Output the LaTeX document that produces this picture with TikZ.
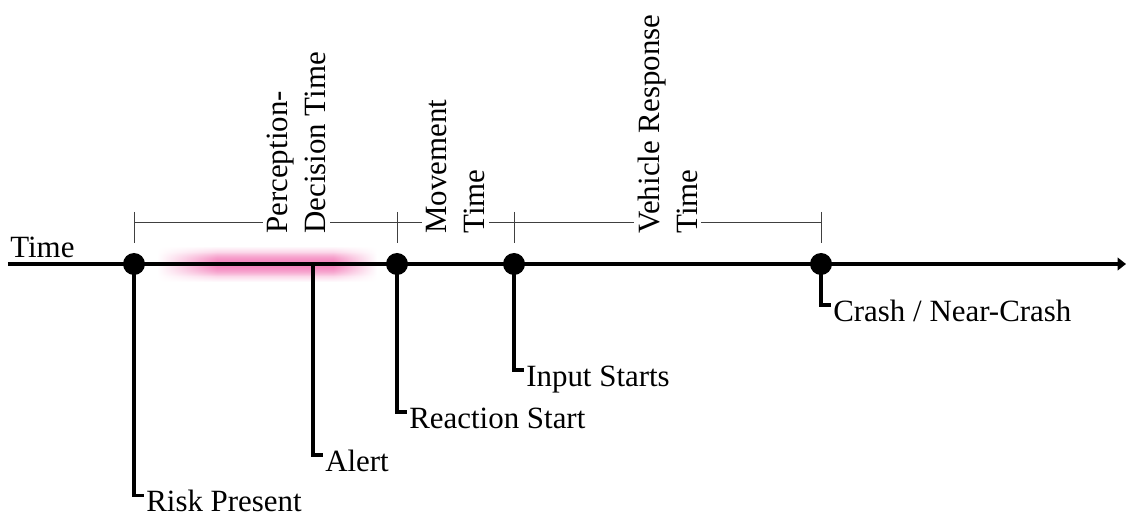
\documentclass[tikz,border=0pt]{standalone}
\usepackage{fontspec}
\setmainfont{Liberation Serif}
\usetikzlibrary{arrows.meta, positioning, calc, fadings}

\definecolor{glowpink}{RGB}{244,135,190}
% soft top and bottom edges for the highlight band
\tikzfading[name=bandfade, top color=transparent!100, bottom color=transparent!100, middle color=transparent!0]

\begin{document}
\begin{tikzpicture}[
  timeline/.style={line width=3.2pt, -{Triangle[length=6pt,width=9pt]}},
  event/.style={circle, fill=black, inner sep=0pt, minimum size=0.55cm},
  drop/.style={line width=2.2pt},
  span/.style={line width=0.7pt, black!75},
  evlabel/.style={anchor=north west, inner xsep=0.05cm, inner ysep=0pt, text height=0.4cm, font=\fontsize{22}{27}\selectfont},
  spanlabel/.style={rotate=90, anchor=west, fill=white, inner sep=0.1cm, align=left, font=\fontsize{22}{27}\selectfont}
]
\useasboundingbox (0,0) rectangle (28.15,12.9);

% highlight band behind the perception phase (two layers for a flatter core)
\foreach \lo/\hi in {5.85/6.75, 6.0/6.6}{
  \shade[left color=white, right color=glowpink, path fading=bandfade] (3.925,\lo) rectangle (5.425,\hi);
  \fill[glowpink, path fading=bandfade] (5.425,\lo) rectangle (8.325,\hi);
  \shade[left color=glowpink, right color=white, path fading=bandfade] (8.325,\lo) rectangle (9.425,\hi);
}

% time axis
\coordinate (T_start) at (0.2,6.3);
\coordinate (T_end) at (28.15,6.3);
\draw[timeline] (T_start) -- (T_end);
\node[anchor=base west, inner sep=0pt, font=\fontsize{22}{27}\selectfont] (Lbl_Time) at (0.25,6.45) {Time};

% events on the axis
\coordinate (Dot_Risk) at (3.35,6.3);
\coordinate (Alert) at (7.825,6.3);
\coordinate (Dot_React) at (9.925,6.3);
\coordinate (Dot_Input) at (12.85,6.3);
\coordinate (Dot_Crash) at (20.525,6.3);

\node[evlabel] (Lbl_Risk) at ($(Dot_Risk)+(0.25,-5.78)$) {Risk Present};
\node[evlabel] (Lbl_Alert) at ($(Alert)+(0.25,-4.775)$) {Alert};
\node[evlabel] (Lbl_React) at ($(Dot_React)+(0.25,-3.7)$) {Reaction Start};
\node[evlabel] (Lbl_Input) at ($(Dot_Input)+(0.25,-2.65)$) {Input Starts};
\node[evlabel] (Lbl_Crash) at ($(Dot_Crash)+(0.25,-1.025)$) {Crash / Near-Crash};

\draw[drop] (Dot_Risk) |- (Lbl_Risk.north west);
\draw[drop] (Alert) |- (Lbl_Alert.north west);
\draw[drop] (Dot_React) |- (Lbl_React.north west);
\draw[drop] (Dot_Input) |- (Lbl_Input.north west);
\draw[drop] (Dot_Crash) |- (Lbl_Crash.north west);

\foreach \e in {Dot_Risk, Dot_React, Dot_Input, Dot_Crash}
  \node[event] at (\e) {};

% interval bracket above the axis
\coordinate (B_Risk) at (3.35,7.35);
\coordinate (B_React) at (9.925,7.35);
\coordinate (B_Input) at (12.85,7.35);
\coordinate (B_Crash) at (20.525,7.35);
\draw[span] (B_Risk) -- (B_Crash);
\foreach \b in {B_Risk, B_React, B_Input, B_Crash}
  \draw[span] ([yshift=0.25cm]\b) -- ([yshift=-0.525cm]\b);

\node[spanlabel] (Span_PD) at (7.41,6.95) {Perception-\\Decision Time};
\node[spanlabel] (Span_MT) at (11.39,6.95) {Movement\\Time};
\node[spanlabel] (Span_VR) at (16.69,6.95) {Vehicle Response\\Time};
\end{tikzpicture}
\end{document}
